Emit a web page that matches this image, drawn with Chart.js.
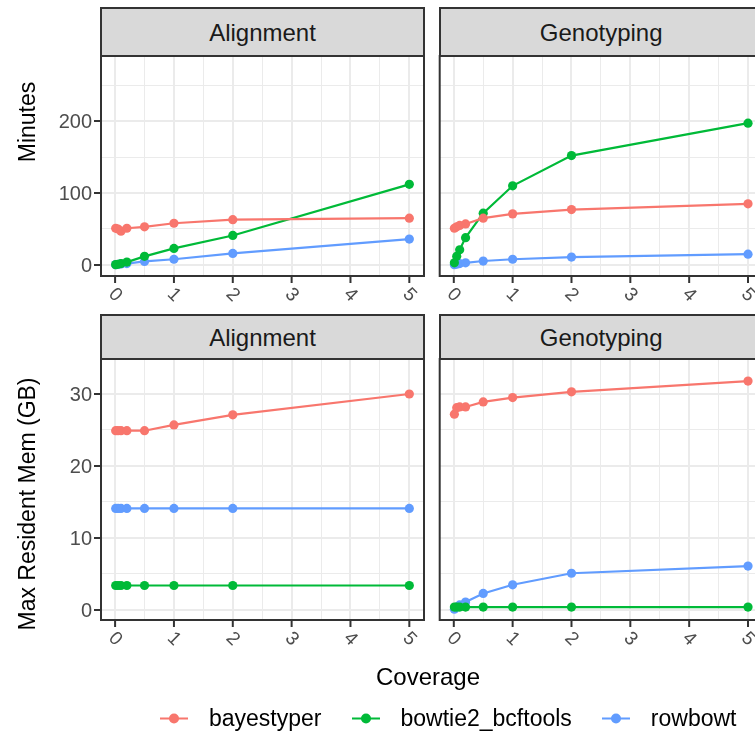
<!DOCTYPE html>
<html>
<head>
<meta charset="utf-8">
<script src="https://cdn.jsdelivr.net/npm/chart.js@4.4.0/dist/chart.umd.min.js"></script>
<style>
  body { margin: 0; background: #fff; }
  #wrap { position: relative; width: 755px; height: 737px; overflow: hidden; font-family: "Liberation Sans", Arial, sans-serif; }
  canvas { position: absolute; left: 0; top: 0; }
  .strip { position: absolute; box-sizing: border-box; background: #D9D9D9; border: 2px solid #333; color: #1A1A1A;
           font-size: 24px; display: flex; align-items: center; justify-content: center; padding-top: 2px; }
  .ytitle { position: absolute; font-size: 23px; color: #000; white-space: nowrap; transform: translate(-50%, -50%) rotate(-90deg); }
  #xtitle { position: absolute; left: 428px; top: 677px; transform: translate(-50%, -50%); font-size: 24px; }
  #legend { position: absolute; left: 160px; top: 718px; transform: translateY(-50%); display: flex; align-items: center; font-size: 23px; color: #000; white-space: nowrap; }
  .item { display: flex; align-items: center; margin-right: 30px; }
  .key { position: relative; width: 28px; height: 20px; margin-right: 21px; }
  .key .ln { position: absolute; left: 0; right: 0; top: 9px; height: 2px; }
  .key .dt { position: absolute; left: 9px; top: 5px; width: 10px; height: 10px; border-radius: 50%; }
</style>
</head>
<body>
<div id="wrap">
  <canvas id="c1" width="780" height="737"></canvas>
  <canvas id="c2" width="780" height="737"></canvas>
  <canvas id="c3" width="780" height="737"></canvas>
  <canvas id="c4" width="780" height="737"></canvas>

  <div class="strip" style="left:100px; top:7px; width:325px; height:50px;">Alignment</div>
  <div class="strip" style="left:438.7px; top:7px; width:325px; height:50px;">Genotyping</div>
  <div class="strip" style="left:100px; top:314px; width:325px; height:46px;">Alignment</div>
  <div class="strip" style="left:438.7px; top:314px; width:325px; height:46px;">Genotyping</div>

  <div class="ytitle" style="left:27px; top:122px;">Minutes</div>
  <div class="ytitle" style="left:27px; top:504px;">Max Resident Mem (GB)</div>
  <div id="xtitle">Coverage</div>
  <div id="legend"></div>
</div>

<script>
'use strict';
// coverage values on the x axis
let coverage = [0.01, 0.05, 0.1, 0.2, 0.5, 1, 2, 5];
let tools = ['bayestyper', 'bowtie2_bcftools', 'rowbowt'];
let toolColors = ['#F8766D', '#00BA38', '#619CFF'];

// Minutes
let alignMinBayes  = [51, 50, 47, 51, 53, 58, 63, 65];
let alignMinBowtie = [0.5, 1, 2, 4, 12, 23, 41, 112];
let alignMinRow    = [0.5, 1, 1.5, 2, 5, 8, 16, 36];
let genoMinBayes   = [51, 53, 55, 57, 65, 71, 77, 85];
let genoMinBowtie  = [3, 12, 21, 38, 72, 110, 152, 197];
let genoMinRow     = [0.5, 1, 2, 3, 5.5, 8, 11, 15];

// Max resident memory (GB)
let alignMemBayes  = [24.9, 24.9, 24.9, 24.9, 24.9, 25.7, 27.1, 30.0];
let alignMemBowtie = [3.4, 3.4, 3.4, 3.4, 3.4, 3.4, 3.4, 3.4];
let alignMemRow    = [14.1, 14.1, 14.1, 14.1, 14.1, 14.1, 14.1, 14.1];
let genoMemBayes   = [27.2, 28.1, 28.2, 28.2, 28.9, 29.5, 30.3, 31.8];
let genoMemBowtie  = [0.4, 0.4, 0.4, 0.4, 0.4, 0.4, 0.4, 0.4];
let genoMemRow     = [0.1, 0.4, 0.7, 1.1, 2.3, 3.5, 5.1, 6.1];

// tick labels
let xTickLabels = [0, 1, 2, 3, 4, 5];
let minutesTicks = [0, 100, 200];
let memTicks = [0, 10, 20, 30];

const FONT = '"Liberation Sans", Arial, sans-serif';

// borders, tick marks and tick labels, ggplot style
const panelDecor = {
    id: 'panelDecor',
    afterDatasetsDraw(chart, args, opts) {
        const ctx = chart.ctx;
        const a = chart.chartArea;
        const x = chart.scales.x;
        const y = chart.scales.y;
        ctx.save();
        ctx.strokeStyle = '#333333';
        ctx.lineWidth = 2;
        ctx.strokeRect(a.left, a.top, a.right - a.left, a.bottom - a.top);
        ctx.fillStyle = '#4D4D4D';
        ctx.font = '19px ' + FONT;
        xTickLabels.forEach(v => {
            const px = x.getPixelForValue(v);
            ctx.beginPath();
            ctx.moveTo(px, a.bottom);
            ctx.lineTo(px, a.bottom + 7);
            ctx.stroke();
            ctx.save();
            ctx.translate(px, a.bottom + 19);
            ctx.rotate(Math.PI / 4);
            ctx.textAlign = 'center';
            ctx.textBaseline = 'middle';
            ctx.fillText(String(v), 0, 0);
            ctx.restore();
        });
        if (opts.yTicks) {
            ctx.font = '20px ' + FONT;
            ctx.textAlign = 'right';
            ctx.textBaseline = 'middle';
            opts.yTicks.forEach(v => {
                const py = y.getPixelForValue(v);
                ctx.beginPath();
                ctx.moveTo(a.left - 7, py);
                ctx.lineTo(a.left, py);
                ctx.stroke();
                ctx.fillText(String(v), a.left - 9, py + 1);
            });
        }
        ctx.restore();
    }
};

function makePanel(id, series, pad, yMin, yMax, yStep, yMajor, yTicks) {
    let datasets = [];
    for (let i = 0; i < tools.length; i++) {
        datasets.push({
            label: tools[i],
            data: coverage.map((c, j) => ({ x: c, y: series[i][j] })),
            borderColor: toolColors[i],
            backgroundColor: toolColors[i],
            borderWidth: 2.2,
            pointRadius: 4.6,
            pointBorderWidth: 0,
            tension: 0
        });
    }
    new Chart(document.getElementById(id), {
        type: 'line',
        data: { datasets: datasets },
        options: {
            responsive: false,
            animation: false,
            layout: { padding: pad },
            plugins: {
                legend: { display: false },
                tooltip: { enabled: false },
                panelDecor: { yTicks: yTicks }
            },
            scales: {
                x: {
                    type: 'linear', min: -0.2395, max: 5.2495,
                    ticks: { display: false, stepSize: 0.5, includeBounds: false, autoSkip: false },
                    grid: {
                        color: '#EBEBEB', drawTicks: false,
                        lineWidth: c => (c.tick && Math.abs(c.tick.value % 1) < 1e-6) ? 2 : 1
                    },
                    border: { display: false }
                },
                y: {
                    type: 'linear', min: yMin, max: yMax,
                    ticks: { display: false, stepSize: yStep, includeBounds: false, autoSkip: false },
                    grid: {
                        color: '#EBEBEB', drawTicks: false,
                        lineWidth: c => (c.tick && Math.abs(c.tick.value % yMajor) < 1e-6) ? 2 : 1
                    },
                    border: { display: false }
                }
            }
        },
        plugins: [panelDecor]
    });
}

const W = 780, H = 737;
const colL = [101, 424], colR = [439.7, 762.7];
const rowT = [56, 276], rowB = [359, 620];
function pad(col, row) {
    return { left: col[0], right: W - col[1], top: row[0], bottom: H - row[1] };
}

makePanel('c1', [alignMinBayes, alignMinBowtie, alignMinRow], pad(colL, rowT), -15.3, 290.3, 50, 100, minutesTicks);
makePanel('c2', [genoMinBayes, genoMinBowtie, genoMinRow], pad(colR, rowT), -15.3, 290.3, 50, 100, null);
makePanel('c3', [alignMemBayes, alignMemBowtie, alignMemRow], pad(colL, rowB), -1.39, 34.86, 5, 10, memTicks);
makePanel('c4', [genoMemBayes, genoMemBowtie, genoMemRow], pad(colR, rowB), -1.39, 34.86, 5, 10, null);

// legend
let legendEl = document.getElementById('legend');
for (let i = 0; i < tools.length; i++) {
    let item = document.createElement('div');
    item.className = 'item';
    item.innerHTML = '<div class="key"><div class="ln" style="background:' + toolColors[i] + '"></div>' +
        '<div class="dt" style="background:' + toolColors[i] + '"></div></div><span>' + tools[i] + '</span>';
    legendEl.appendChild(item);
}
</script>
</body>
</html>
